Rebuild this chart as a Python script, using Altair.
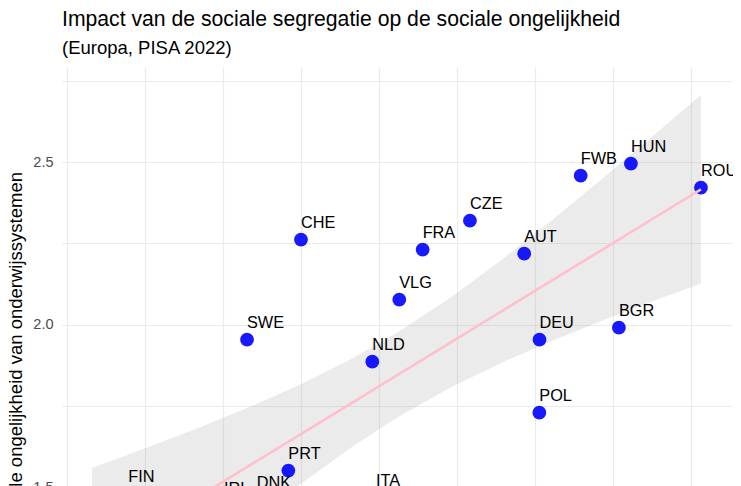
import altair as alt
import pandas as pd

# ---- data ----
countries = ["CHE", "SWE", "FRA", "CZE", "VLG", "NLD", "AUT", "DEU", "POL",
             "FWB", "HUN", "ROU", "BGR", "PRT", "FIN", "IRL", "DNK", "ITA"]
segregation = [0.2500, 0.2154, 0.3280, 0.3583, 0.3130, 0.2957, 0.3931, 0.4029, 0.4028,
               0.4293, 0.4615, 0.5064, 0.4538, 0.2419, 0.1393, 0.2006, 0.2216, 0.2981]
inequality = [2.2615, 1.9538, 2.2308, 2.3200, 2.0769, 1.8862, 2.2185, 1.9538, 1.7292,
              2.4585, 2.4954, 2.4215, 1.9908, 1.5508, 1.4800, 1.4430, 1.4615, 1.4662]

# linear fit with its confidence band
fit_x = [0.1160, 0.1532, 0.1853, 0.2173, 0.2494, 0.2814, 0.3109,
         0.3455, 0.3776, 0.4096, 0.4417, 0.4737, 0.5064]
fit_y = [1.2698, 1.3791, 1.4732, 1.5674, 1.6615, 1.7557, 1.8425,
         1.9440, 2.0382, 2.1323, 2.2265, 2.3206, 2.4166]
band_lo = [0.9806, 1.1329, 1.2618, 1.3874, 1.5077, 1.6194, 1.7120,
           1.8058, 1.8806, 1.9477, 2.0095, 2.0686, 2.1268]
band_hi = [1.5591, 1.6252, 1.6846, 1.7474, 1.8154, 1.8920, 1.9729,
           2.0822, 2.1957, 2.3169, 2.4434, 2.5726, 2.7065]

x_ticks = [0.10, 0.15, 0.20, 0.25, 0.30, 0.35, 0.40, 0.45, 0.50]
y_ticks = [1.0, 1.25, 1.5, 1.75, 2.0, 2.25, 2.5, 2.75]

FONT = "Liberation Sans"

pts = pd.DataFrame({"land": countries, "seg": segregation, "ong": inequality})
fit = pd.DataFrame({"seg": fit_x, "fit": fit_y, "lo": band_lo, "hi": band_hi})

xs = alt.Scale(domain=[0.0968, 0.5263], nice=False, zero=False)
ys = alt.Scale(domain=[0.894, 2.793], nice=False, zero=False)

x_axis = alt.Axis(values=x_ticks, format=".2f", title="Sociale segregatie")
y_axis = alt.Axis(
    values=y_ticks,
    labelExpr="datum.value % 0.5 == 0 ? format(datum.value, '.1f') : ''",
    title="Sociale ongelijkheid van onderwijssystemen",
    titleX=-41, titleY=285, titleBaseline="alphabetic", titleAlign="center",
)

X = alt.X("seg:Q", scale=xs, axis=x_axis)

band = alt.Chart(fit).mark_area(color="#999999", opacity=0.2).encode(
    x=X, y=alt.Y("lo:Q", scale=ys, axis=y_axis), y2="hi:Q"
)
points = alt.Chart(pts).mark_circle(size=190, color="#0000FF", opacity=0.9).encode(
    x=X, y=alt.Y("ong:Q", scale=ys, axis=y_axis)
)
line = alt.Chart(fit).mark_line(color="#FFC0CB", strokeWidth=2.6).encode(
    x=X, y=alt.Y("fit:Q", scale=ys, axis=y_axis)
)
labels = alt.Chart(pts).mark_text(
    align="left", baseline="alphabetic", dy=-12, fontSize=16.3, font=FONT, color="black"
).encode(x=X, y=alt.Y("ong:Q", scale=ys, axis=y_axis), text="land:N")

chart = (
    alt.layer(band, points, line, labels)
    .properties(
        width=670, height=617,
        title=alt.Title(
            text="Impact van de sociale segregatie op de sociale ongelijkheid",
            subtitle="(Europa, PISA 2022)",
            anchor="start", frame="group",
            font=FONT, fontSize=21.2, fontWeight="normal", color="black",
            subtitleFont=FONT, subtitleFontSize=18.5, subtitleColor="black",
            subtitlePadding=8, offset=10,
        ),
        autosize=alt.AutoSizeParams(type="none"),
        padding={"left": 54, "top": 59, "right": 1, "bottom": 0},
    )
    .configure_view(stroke=None)
    .configure_axis(
        grid=True, gridColor="#ebebeb", gridWidth=1.2,
        domain=False, ticks=False, tickSize=0,
        labelFont=FONT, labelFontSize=14.5, labelColor="#4d4d4d", labelPadding=9,
        titleFont=FONT, titleFontSize=18.5, titleFontWeight="normal", titleColor="black",
    )
)

chart.save("out.html", embed_options={"renderer": "svg", "actions": False})
